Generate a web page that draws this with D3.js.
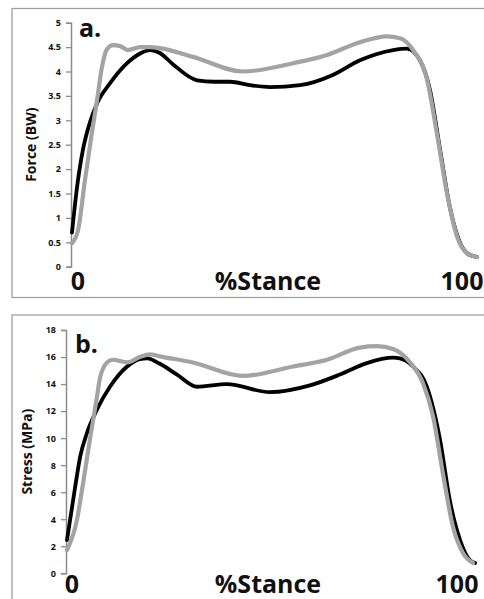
<!DOCTYPE html>
<html><head><meta charset="utf-8">
<script src="https://cdn.jsdelivr.net/npm/d3@7"></script>
<style>body{margin:0;background:#fff;}svg{display:block;}text{font-family:"Open Sans",sans-serif;font-weight:bold;}</style>
</head><body>
<svg id="c" width="484" height="599"></svg>
<script>
// Panel a: Force (BW)
const forceBlackX = [0,1.2,2.7,4.4,6.2,9.4,13.6,16.8,19.3,21.7,24.9,30.9,35.1,39,44,48.9,56.3,64.4,71.1,79.3,82.7,85.9,88.4,90.9,93.3,95.8,98,100];
const forceBlackY = [0.7,1.6,2.4,2.95,3.35,3.76,4.17,4.37,4.44,4.38,4.15,3.82,3.79,3.79,3.72,3.68,3.72,3.93,4.23,4.44,4.47,4.23,3.62,2.39,1.22,0.49,0.25,0.2];
const forceGrayX = [0,1.5,3.2,4.9,6.2,7.4,8.6,10.1,11.9,13.8,16.8,19.3,21.7,29.9,42.2,54.6,63,71.1,77.8,81,84.2,87.7,90.1,92.6,95.1,97.5,100];
const forceGrayY = [0.48,0.75,1.77,2.74,3.42,4.09,4.45,4.54,4.52,4.44,4.5,4.5,4.48,4.3,4.0,4.17,4.34,4.6,4.72,4.68,4.44,3.82,2.73,1.5,0.61,0.28,0.2];
const forceTicks = [0,0.5,1,1.5,2,2.5,3,3.5,4,4.5,5];
// Panel b: Stress (MPa)
const stressBlackX = [0,2,3.2,4.9,7.3,10.5,14.7,17.8,19.6,22.7,26.9,31.8,39.1,49.6,59.4,66.7,73.3,79.7,81.4,84.6,88,91.2,93.6,96.1,98.5,99.8];
const stressBlackY = [2.46,6.4,8.6,10.4,12.1,13.8,15.3,15.85,15.9,15.5,14.7,13.8,14.0,13.4,13.9,14.7,15.55,15.95,15.9,15.3,13.8,9.9,5.4,2.46,0.98,0.76];
const stressGrayX = [0,2.4,3.9,5.6,7.3,8.1,9.8,11.2,14.7,17.8,20.3,22.7,30.8,43,55.3,63.6,71.6,75.8,79.7,83.9,87,89.5,91.9,94.4,96.8,99.3];
const stressGrayY = [1.72,3.9,6.6,9.9,13.0,14.5,15.6,15.8,15.6,16.0,16.2,16.05,15.6,14.6,15.3,15.8,16.7,16.8,16.6,15.6,14.1,11.6,7.4,3.4,1.5,0.76];
const stressTicks = [0,2,4,6,8,10,12,14,16,18];
const xLabels = ["0","%Stance","100"];

const svg = d3.select("#c");
const gray = "#a3a3a3";

function panel(o){
  const g = svg.append("g");
  g.append("rect").attr("x",o.fx).attr("y",o.fy).attr("width",o.fw).attr("height",o.fh)
    .attr("fill","none").attr("stroke","#a0a0a0").attr("stroke-width",1.3);
  const x = d3.scaleLinear().domain([0,100]).range(o.xr);
  const y = d3.scaleLinear().domain([0,o.ymax]).range(o.yr);
  const ax = g.append("g").attr("transform",`translate(${o.xr[0]-1},0)`)
    .call(d3.axisLeft(y).tickValues(o.ticks).tickFormat(d=>String(d)).tickSize(5).tickPadding(5));
  ax.select(".domain").attr("stroke","#8c8c8c").attr("stroke-width",1.5);
  ax.selectAll(".tick line").attr("stroke","#8c8c8c").attr("stroke-width",1.3);
  ax.selectAll(".tick text").attr("font-size",9).attr("font-family","Open Sans").attr("font-weight","bold").attr("fill","#111");
  g.append("text").attr("transform",`translate(${o.tx},${(o.yr[0]+o.yr[1])/2}) rotate(-90)`)
    .attr("text-anchor","middle").attr("font-size",14).attr("fill","#111").text(o.title);
  g.append("text").attr("x",o.lx).attr("y",o.ly).attr("font-size",25).attr("fill","#111").text(o.label);
  const line = d3.line().x(d=>x(d[0])).y(d=>y(d[1])).curve(d3.curveMonotoneX);
  const blk = o.bx.map((v,i)=>[v,o.by[i]]);
  const gry = o.gx.map((v,i)=>[v,o.gy[i]]);
  g.append("path").attr("d",line(blk)).attr("fill","none").attr("stroke","#000").attr("stroke-width",3.8).attr("stroke-linejoin","round").attr("stroke-linecap","round");
  g.append("path").attr("d",line(gry)).attr("fill","none").attr("stroke",gray).attr("stroke-width",4.2).attr("stroke-linejoin","round").attr("stroke-linecap","round");
  const lxPos = [o.x0, 268, o.x100];
  xLabels.forEach((t,i)=>{
    g.append("text").attr("x",lxPos[i]).attr("y",o.xly).attr("text-anchor","middle")
      .attr("font-size",25).attr("fill","#111").text(t);
  });
}

panel({fx:12,fy:8.5,fw:480,fh:289,xr:[72,477],yr:[266.7,22.7],ymax:5,ticks:forceTicks,
  title:"Force (BW)",tx:36,label:"a.",lx:79,ly:37,bx:forceBlackX,by:forceBlackY,gx:forceGrayX,gy:forceGrayY,
  x0:78,x100:462,xly:290});
panel({fx:12,fy:315,fw:480,fh:300,xr:[67,476],yr:[573.3,330],ymax:18,ticks:stressTicks,
  title:"Stress (MPa)",tx:32,label:"b.",lx:75,ly:353,bx:stressBlackX,by:stressBlackY,gx:stressGrayX,gy:stressGrayY,
  x0:72,x100:457,xly:593});
</script>
</body></html>
